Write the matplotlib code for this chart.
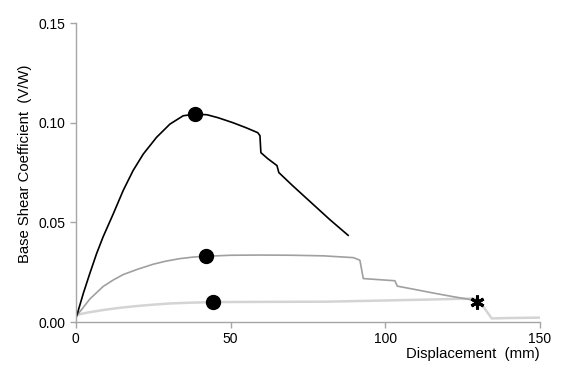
import matplotlib
matplotlib.use('Agg')
import matplotlib.pyplot as plt

plt.rcParams['font.family'] = ['Liberation Sans', 'DejaVu Sans']

# Pushover curves: displacement (mm) vs base shear coefficient (V/W)
disp_a = [0, 0.2, 2.4, 4.5, 6.7, 8.8, 12.1, 15.3, 18.5, 21.8, 26.1, 30.4, 34.7, 38.5,
          42.4, 46, 50.8, 55, 58.8, 59.5, 59.8, 62, 65, 65.6, 70, 76, 82, 88]
shear_a = [0.002, 0.0027, 0.0143, 0.0243, 0.0343, 0.0427, 0.0543, 0.066, 0.076,
           0.0843, 0.0927, 0.0993, 0.1035, 0.1043, 0.104, 0.1025, 0.100, 0.0975,
           0.095, 0.0935, 0.085, 0.082, 0.0785, 0.075, 0.0685, 0.060, 0.0515, 0.0435]

disp_b = [0, 2, 4.5, 8.8, 12, 15.3, 20, 25, 29, 33.6, 38, 42.2, 50, 59.5, 70, 80,
          89.7, 91.8, 92.9, 103.1, 103.9, 110, 116, 122, 128.5]
shear_b = [0.0027, 0.0065, 0.0115, 0.0178, 0.021, 0.0238, 0.0265, 0.029, 0.0305,
           0.0318, 0.0326, 0.033, 0.0335, 0.0336, 0.0335, 0.0332, 0.0323, 0.031,
           0.0218, 0.0207, 0.018, 0.0162, 0.0144, 0.0127, 0.011]

disp_c = [0, 4, 8.8, 14, 19.6, 25, 30.4, 37, 44.4, 60, 81, 100, 115, 128.5, 129.5,
          131.7, 134.4, 140, 150]
shear_c = [0.0035, 0.0048, 0.006, 0.0071, 0.008, 0.0087, 0.0093, 0.0097, 0.010,
           0.0101, 0.0102, 0.0108, 0.0113, 0.0118, 0.0112, 0.0077, 0.0018, 0.002,
           0.0022]

# Peak points and ultimate point
peak_disp = [38.5, 42.2, 44.4]
peak_shear = [0.1045, 0.033, 0.010]
ult_disp = [129.5]
ult_shear = [0.010]

fig = plt.figure(figsize=(5.66, 3.76), dpi=100)
ax = fig.add_axes([0.134, 0.1436, 0.82, 0.795])

ax.plot(disp_c, shear_c, color='#d4d4d4', lw=1.8)
ax.plot(disp_b, shear_b, color='#a0a0a0', lw=1.2)
ax.plot(disp_a, shear_a, color='black', lw=1.2)
ax.plot(peak_disp, peak_shear, 'o', color='black', ms=10, ls='none')
ax.plot(ult_disp, ult_shear, marker=(6, 2, 0), color='black', ms=10, mew=2.2, ls='none')

ax.set_xlim(0, 150)
ax.set_ylim(0, 0.15)
ax.set_xticks([0, 50, 100, 150])
ax.set_yticks([0, 0.05, 0.10, 0.15])
ax.set_yticklabels(['0.00', '0.05', '0.10', '0.15'])

for side in ['top', 'right']:
    ax.spines[side].set_visible(False)
for side in ['left', 'bottom']:
    ax.spines[side].set_color('#a6a6a6')
    ax.spines[side].set_linewidth(1.0)
ax.tick_params(axis='both', colors='#a6a6a6', labelcolor='black', labelsize=10,
               length=4, width=1.0)

ax.set_ylabel('Base Shear Coefficient  (V/W)', fontsize=10.7)
ax.yaxis.set_label_coords(-0.095, 0.53)
ax.set_xlabel('Displacement  (mm)', fontsize=10.7)
ax.xaxis.set_label_coords(0.855, -0.085)

fig.savefig('out.png', dpi=100)
